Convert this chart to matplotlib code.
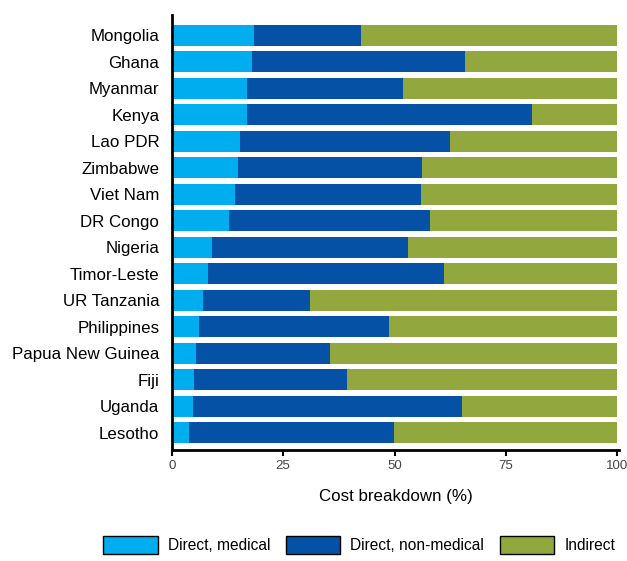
import numpy as np
from matplotlib import pyplot as plt

countries = ['Mongolia', 'Ghana', 'Myanmar', 'Kenya', 'Lao PDR', 'Zimbabwe',
             'Viet Nam', 'DR Congo', 'Nigeria', 'Timor-Leste', 'UR Tanzania',
             'Philippines', 'Papua New Guinea', 'Fiji', 'Uganda', 'Lesotho']
direct_medical = [18.4, 18.1, 16.8, 16.8, 15.2, 14.8, 14.1, 12.8, 9.0, 8.1, 7.0,
                  6.1, 5.4, 4.9, 4.7, 3.8]
direct_nonmedical = [24.0, 47.7, 35.1, 64.1, 47.3, 41.4, 41.8, 45.1, 44.0, 53.0, 24.0,
                     42.7, 30.1, 34.4, 60.5, 46.1]
indirect = [100 - a - b for a, b in zip(direct_medical, direct_nonmedical)]

plt.rcParams['font.family'] = ['Liberation Sans', 'DejaVu Sans']

c_med = '#00AEEF'
c_non = '#0451A5'
c_ind = '#92A83F'

fig = plt.figure(figsize=(6.27, 5.61), dpi=100)
ax = fig.add_axes([0.274, 0.198, 0.714, 0.775])

y = np.arange(len(countries))
h = 0.79
ax.barh(y, direct_medical, height=h, color=c_med, label='Direct, medical')
ax.barh(y, direct_nonmedical, left=direct_medical, height=h, color=c_non,
        label='Direct, non-medical')
left2 = [a + b for a, b in zip(direct_medical, direct_nonmedical)]
ax.barh(y, indirect, left=left2, height=h, color=c_ind, label='Indirect')

ax.set_ylim(len(countries) - 0.35, -0.75)
ax.set_xlim(0, 100.5)
ax.set_yticks(y)
ax.set_yticklabels(countries, fontsize=12.2)
ax.tick_params(axis='y', length=0, pad=9)
ax.set_xticks([0, 25, 50, 75, 100])
ax.tick_params(axis='x', labelsize=9.5, labelcolor='#444444', length=4, width=1.5,
               direction='out')
ax.spines['top'].set_visible(False)
ax.spines['right'].set_visible(False)
ax.spines['left'].set_linewidth(2)
ax.spines['bottom'].set_linewidth(2)
ax.set_xlabel('Cost breakdown (%)', fontsize=12.2, labelpad=12)

fig.legend(loc='lower center', bbox_to_anchor=(0.573, -0.012), ncol=3, frameon=False,
           fontsize=11.2, handlelength=3.5, handleheight=1.4, columnspacing=1.0,
           handletextpad=0.65)
for p in fig.legends[0].get_patches():
    p.set_edgecolor('black')
    p.set_linewidth(1)

fig.savefig('out.png', dpi=100)
